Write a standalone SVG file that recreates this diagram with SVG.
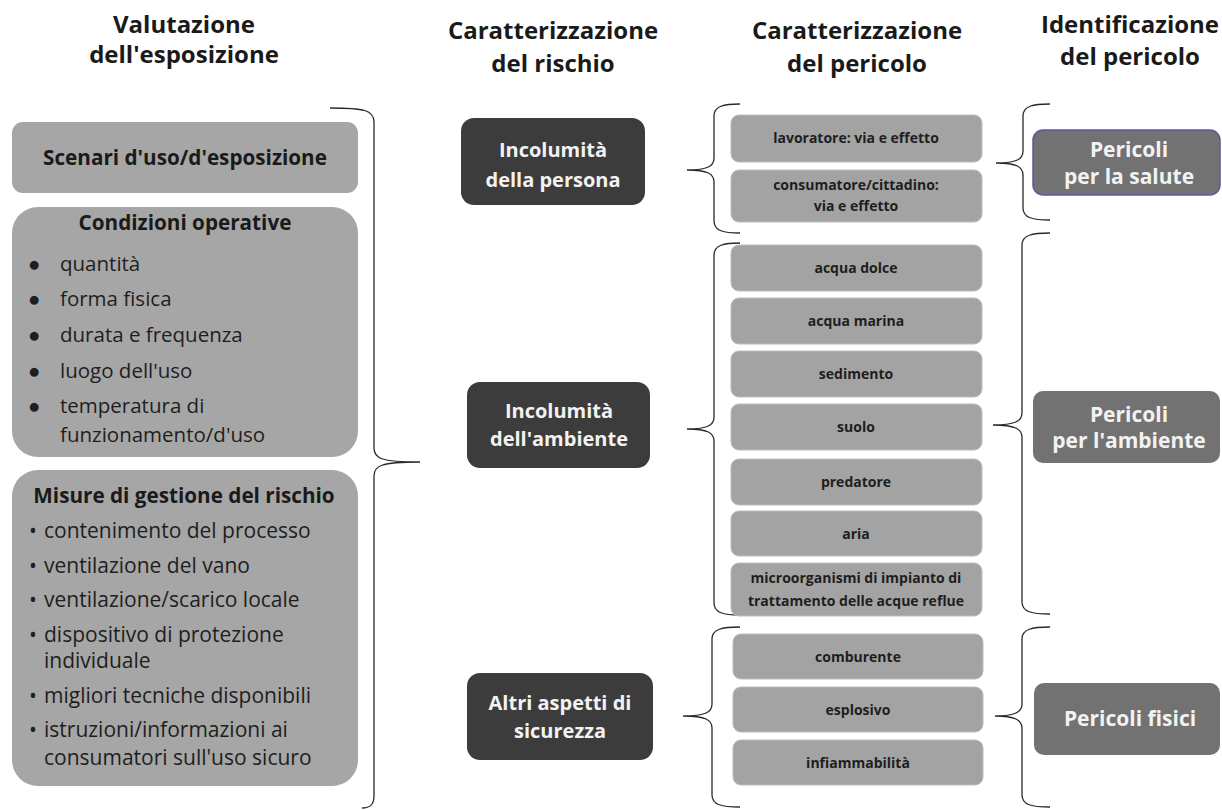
<svg xmlns="http://www.w3.org/2000/svg" width="1222" height="810" viewBox="0 0 1222 810">
<style>
text{font-family:"Open Sans","Liberation Sans",sans-serif}
.hd{font-size:24px;font-weight:700;fill:#1a1a1a;text-anchor:middle}
.big{fill:#a6a6a6}
.ttl{font-size:20.7px;font-weight:700;fill:#1a1a1a;text-anchor:middle}
.li{font-size:20.5px;fill:#1e1e1e}
.li2{font-size:21px;fill:#1e1e1e}
.dark{fill:#3c3c3c}
.wt{font-size:20px;font-weight:700;fill:#f2f2f2;text-anchor:middle}
.sm{fill:#a3a3a3;stroke:#bcbcbc;stroke-width:1}
.st{font-size:14px;font-weight:700;fill:#1e1e1e;text-anchor:middle}
.hz{fill:#727272}
.wr{font-size:21px;font-weight:700;fill:#f2f2f2;text-anchor:middle}
.br{fill:none;stroke:#2a2a2a;stroke-width:1.3}
</style>

<g id="headers">
<text class="hd" x="184" y="33">Valutazione</text>
<text class="hd" x="184" y="63">dell'esposizione</text>
<text class="hd" x="553" y="39">Caratterizzazione</text>
<text class="hd" x="553" y="72">del rischio</text>
<text class="hd" x="857" y="39">Caratterizzazione</text>
<text class="hd" x="857" y="72">del pericolo</text>
<text class="hd" x="1130" y="33">Identificazione</text>
<text class="hd" x="1130" y="65">del pericolo</text>
</g>

<g id="connectors">
<path class="br" d="M330,108 C364,108 374,110 374,122 L374,448 C374,458 380,462 420,462 C380,462 374,466 374,476 L374,796 C374,805 370,808 362,808"/>
<path class="br" d="M740,104 C724,104 714,106 714,116 L714,158 C714,166 708,170 687,170 C708,170 714,174 714,182 L714,221 C714,231 724,233 740,233"/>
<path class="br" d="M740,243 C724,243 714,245 714,255 L714,417 C714,425 708,429 687,429 C708,429 714,433 714,441 L714,603 C714,613 724,615 740,615"/>
<path class="br" d="M740,627 C722,627 712,629 712,639 L712,704 C712,712 706,716 683,716 C706,716 712,720 712,728 L712,795 C712,805 722,807 740,807"/>
<path class="br" d="M1050,104 C1033,104 1023,106 1023,116 L1023,151 C1023,159 1017,163 996,163 C1017,163 1023,167 1023,175 L1023,208 C1023,218 1033,220 1050,220"/>
<path class="br" d="M1050,233 C1032,233 1022,235 1022,245 L1022,413 C1022,421 1015,425 993,425 C1015,425 1022,429 1022,437 L1022,602 C1022,612 1032,614 1050,614"/>
<path class="br" d="M1050,627 C1032,627 1022,629 1022,639 L1022,704 C1022,712 1015,716 995,716 C1015,716 1022,720 1022,728 L1022,795 C1022,805 1032,807 1050,807"/>
</g>

<g id="scenari">
<rect class="big" x="12" y="122" width="346" height="71" rx="11"/>
<text class="ttl" x="185" y="165">Scenari d'uso/d'esposizione</text>
</g>

<g id="condizioni">
<rect class="big" x="12" y="207" width="346" height="250" rx="26"/>
<text class="ttl" x="185" y="230">Condizioni operative</text>
<g class="li">
<text x="28" y="271">●</text><text x="60" y="271">quantità</text>
<text x="28" y="306">●</text><text x="60" y="306">forma fisica</text>
<text x="28" y="342">●</text><text x="60" y="342">durata e frequenza</text>
<text x="28" y="378">●</text><text x="60" y="378">luogo dell'uso</text>
<text x="28" y="413">●</text><text x="60" y="413">temperatura di</text>
<text x="60" y="442">funzionamento/d'uso</text>
</g>
</g>

<g id="misure">
<rect class="big" x="12" y="470" width="346" height="316" rx="26"/>
<text class="ttl" x="184" y="503">Misure di gestione del rischio</text>
<g class="li2">
<text x="29" y="538">•</text><text x="44" y="538">contenimento del processo</text>
<text x="29" y="573">•</text><text x="44" y="573">ventilazione del vano</text>
<text x="29" y="607">•</text><text x="44" y="607">ventilazione/scarico locale</text>
<text x="29" y="642">•</text><text x="44" y="642">dispositivo di protezione</text>
<text x="44" y="668">individuale</text>
<text x="29" y="703">•</text><text x="44" y="703">migliori tecniche disponibili</text>
<text x="29" y="737">•</text><text x="44" y="737">istruzioni/informazioni ai</text>
<text x="44" y="765">consumatori sull'uso sicuro</text>
</g>
</g>

<g id="persona">
<rect class="dark" x="461" y="118" width="184" height="87" rx="13"/>
<text class="wt" x="553" y="157">Incolumità</text>
<text class="wt" x="553" y="187">della persona</text>
</g>
<g id="ambiente">
<rect class="dark" x="467" y="382" width="183" height="86" rx="13"/>
<text class="wt" x="559" y="418">Incolumità</text>
<text class="wt" x="559" y="446">dell'ambiente</text>
</g>
<g id="altri">
<rect class="dark" x="467" y="673" width="186" height="87" rx="13"/>
<text class="wt" x="560" y="710">Altri aspetti di</text>
<text class="wt" x="560" y="738">sicurezza</text>
</g>

<g id="lavoratore"><rect class="sm" x="731" y="115" width="251" height="47" rx="8"/><text class="st" x="856" y="143">lavoratore: via e effetto</text></g>
<g id="consumatore"><rect class="sm" x="731" y="170" width="251" height="52" rx="8"/><text class="st" x="856" y="190">consumatore/cittadino:</text><text class="st" x="856" y="211">via e effetto</text></g>
<g id="acqua-dolce"><rect class="sm" x="731" y="245" width="251" height="46" rx="8"/><text class="st" x="856" y="273">acqua dolce</text></g>
<g id="acqua-marina"><rect class="sm" x="731" y="298" width="251" height="46" rx="8"/><text class="st" x="856" y="326">acqua marina</text></g>
<g id="sedimento"><rect class="sm" x="731" y="351" width="251" height="46" rx="8"/><text class="st" x="856" y="379">sedimento</text></g>
<g id="suolo"><rect class="sm" x="731" y="404" width="251" height="46" rx="8"/><text class="st" x="856" y="432">suolo</text></g>
<g id="predatore"><rect class="sm" x="731" y="459" width="251" height="46" rx="8"/><text class="st" x="856" y="487">predatore</text></g>
<g id="aria"><rect class="sm" x="731" y="511" width="251" height="45" rx="8"/><text class="st" x="856" y="539">aria</text></g>
<g id="microorganismi"><rect class="sm" x="731" y="563" width="251" height="53" rx="8"/><text class="st" x="856" y="583">microorganismi di impianto di</text><text class="st" x="856" y="606">trattamento delle acque reflue</text></g>
<g id="comburente"><rect class="sm" x="733" y="634" width="250" height="45" rx="8"/><text class="st" x="858" y="662">comburente</text></g>
<g id="esplosivo"><rect class="sm" x="733" y="687" width="250" height="45" rx="8"/><text class="st" x="858" y="715">esplosivo</text></g>
<g id="infiammabilita"><rect class="sm" x="733" y="740" width="250" height="45" rx="8"/><text class="st" x="858" y="768">infiammabilità</text></g>

<g id="pericoli-salute">
<rect class="hz" x="1033" y="130" width="187" height="65" rx="10" stroke="#5a5a9e" stroke-width="1.5"/>
<text class="wr" x="1129" y="157">Pericoli</text>
<text class="wr" x="1129" y="184">per la salute</text>
</g>
<g id="pericoli-ambiente">
<rect class="hz" x="1033" y="391" width="187" height="72" rx="10"/>
<text class="wr" x="1129" y="422">Pericoli</text>
<text class="wr" x="1129" y="448">per l'ambiente</text>
</g>
<g id="pericoli-fisici">
<rect class="hz" x="1034" y="683" width="186" height="72" rx="10"/>
<text class="wr" x="1130" y="726">Pericoli fisici</text>
</g>
</svg>
